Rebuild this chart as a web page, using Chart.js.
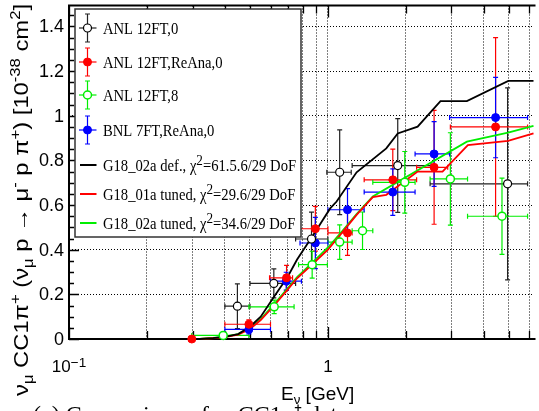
<!DOCTYPE html>
<html>
<head>
<meta charset="utf-8">
<script src="https://cdn.jsdelivr.net/npm/chart.js@4.4.0/dist/chart.umd.min.js"></script>
<style>
body { margin: 0; background: #fff; }
#wrap { width: 539px; height: 411px; position: relative; overflow: hidden; }
</style>
</head>
<body>
<div id="wrap"><canvas id="grafico" width="539" height="411"></canvas></div>
<script>
// ANL 12FT,0
const anlE = [0.447, 0.618, 0.864, 1.11, 1.86, 4.94];
const anlLo = [0.40, 0.50, 0.75, 0.99, 1.24, 2.48];
const anlHi = [0.50, 0.75, 1.0, 1.23, 2.5, 5.9];
const anlY = [0.147, 0.249, 0.448, 0.747, 0.777, 0.695];
const anlErr = [0.10, 0.065, 0.12, 0.19, 0.21, 0.43];

// ANL 12FT,ReAna,0
const reaE = [0.298, 0.495, 0.692, 0.894, 1.19, 1.78, 2.57, 4.44];
const reaLo = [0.298, 0.40, 0.595, 0.78, 1.0, 1.38, 2.2, 2.97];
const reaHi = [0.298, 0.60, 0.73, 1.0, 1.24, 2.2, 2.9, 5.9];
const reaY = [0.0, 0.066, 0.274, 0.494, 0.475, 0.713, 0.769, 0.95];
const reaErr = [0.005, 0.02, 0.056, 0.10, 0.10, 0.138, 0.255, 0.40];

// ANL 12FT,8
const anl8E = [0.394, 0.620, 0.869, 1.11, 1.36, 1.98, 2.97, 4.70];
const anl8Lo = [0.298, 0.495, 0.77, 1.0, 1.24, 1.49, 2.48, 3.46];
const anl8Hi = [0.495, 0.74, 0.995, 1.24, 1.49, 2.17, 3.46, 5.9];
const anl8Y = [0.016, 0.144, 0.333, 0.434, 0.485, 0.702, 0.717, 0.550];
const anl8Err = [0.01, 0.03, 0.06, 0.077, 0.084, 0.138, 0.207, 0.171];

// BNL 7FT,ReAna,0
const bnlE = [0.495, 0.69, 0.894, 1.19, 1.78, 2.57, 4.44];
const bnlLo = [0.40, 0.60, 0.78, 1.0, 1.38, 2.17, 2.95];
const bnlHi = [0.60, 0.79, 1.0, 1.38, 2.17, 2.95, 5.9];
const bnlY = [0.043, 0.259, 0.43, 0.579, 0.658, 0.829, 0.992];
const bnlErr = [0.02, 0.04, 0.115, 0.095, 0.104, 0.145, 0.18];

// curvas GENIE
const defE = [0.1, 0.32, 0.36, 0.40, 0.45, 0.50, 0.55, 0.62, 0.70, 0.76, 0.88, 1.02, 1.08, 1.29, 1.68, 1.86, 2.22, 2.72, 3.44, 4.97, 6.22];
const defY = [0, 0, 0.004, 0.01, 0.022, 0.055, 0.10, 0.19, 0.28, 0.356, 0.468, 0.585, 0.616, 0.747, 0.854, 0.921, 0.951, 1.066, 1.066, 1.156, 1.156];
const t01E = [0.1, 0.32, 0.39, 0.45, 0.50, 0.55, 0.62, 0.70, 0.76, 0.87, 1.0, 1.14, 1.29, 1.49, 1.68, 2.22, 2.77, 3.47, 4.96, 6.22];
const t01Y = [0, 0, 0.006, 0.019, 0.045, 0.085, 0.15, 0.222, 0.272, 0.334, 0.40, 0.48, 0.556, 0.636, 0.646, 0.75, 0.75, 0.869, 0.888, 0.921];
const t02E = [0.1, 0.32, 0.39, 0.45, 0.50, 0.55, 0.62, 0.70, 0.76, 0.87, 1.0, 1.14, 1.29, 1.49, 3.44, 4.96, 6.22];
const t02Y = [0, 0, 0.008, 0.022, 0.049, 0.089, 0.156, 0.228, 0.277, 0.342, 0.41, 0.486, 0.56, 0.638, 0.884, 0.924, 0.955];

const xTicks = [0.1, 0.2, 0.3, 0.4, 0.5, 0.6, 0.7, 0.8, 0.9, 1, 2, 3, 4, 5, 6];
const xMajor = [0.1, 1];
const yTicks = [0, 0.2, 0.4, 0.6, 0.8, 1.0, 1.2, 1.4];
const yLabels = ['0', '0.2', '0.4', '0.6', '0.8', '1', '1.2', '1.4'];

const SANS = '"Liberation Sans", Arial, sans-serif';
const SERIF = '"Liberation Serif", "Times New Roman", serif';

function pts(xs, ys) { return xs.map((x, i) => ({ x: x, y: ys[i] })); }

// ancho de un texto con sub/superindices
function richWidth(ctx, parts, size, family) {
    let w = 0;
    parts.forEach(p => { ctx.font = (size * p[1]) + 'px ' + family; w += ctx.measureText(p[0]).width; });
    return w;
}

// texto con sub/superindices: [texto, escala, desplazamiento]
function rich(ctx, x, y, parts, size, family, align) {
    const w = richWidth(ctx, parts, size, family);
    let cx = align === 'center' ? x - w / 2 : (align === 'right' ? x - w : x);
    parts.forEach(p => {
        ctx.font = (size * p[1]) + 'px ' + family;
        ctx.fillText(p[0], cx, y + p[2]);
        cx += ctx.measureText(p[0]).width;
    });
    return w;
}

function errBar(ctx, x1, y1, x2, y2, cap, vertical) {
    ctx.beginPath();
    ctx.moveTo(x1, y1); ctx.lineTo(x2, y2);
    if (vertical) {
        ctx.moveTo(x1 - cap, y1); ctx.lineTo(x1 + cap, y1);
        ctx.moveTo(x2 - cap, y2); ctx.lineTo(x2 + cap, y2);
    } else {
        ctx.moveTo(x1, y1 - cap); ctx.lineTo(x1, y1 + cap);
        ctx.moveTo(x2, y2 - cap); ctx.lineTo(x2, y2 + cap);
    }
    ctx.stroke();
}

const errorBars = {
    id: 'errorBars',
    beforeDatasetsDraw(chart) {
        const ctx = chart.ctx, xs = chart.scales.x, ys = chart.scales.y, a = chart.chartArea;
        ctx.save();
        // marco
        ctx.strokeStyle = '#000';
        ctx.lineWidth = 2;
        ctx.beginPath();
        ctx.moveTo(a.right + 2, a.top); ctx.lineTo(a.left, a.top); ctx.lineTo(a.left, a.bottom); ctx.lineTo(a.right + 2, a.bottom);
        ctx.stroke();
        ctx.lineWidth = 1.3;
        ctx.beginPath();
        xTicks.forEach(v => {
            const px = Math.round(xs.getPixelForValue(v)) + 0.5;
            const len = xMajor.includes(v) ? 12 : 8;
            ctx.moveTo(px, a.bottom); ctx.lineTo(px, a.bottom - len);
            ctx.moveTo(px, a.top); ctx.lineTo(px, a.top + len);
        });
        for (let v = 0; v <= 1.49; v += 0.05) {
            const py = Math.round(ys.getPixelForValue(v)) + 0.5;
            const major = Math.abs(v / 0.2 - Math.round(v / 0.2)) < 0.01;
            ctx.moveTo(a.left, py); ctx.lineTo(a.left + (major ? 10 : 5), py);
        }
        ctx.stroke();
        // barras de error
        chart.data.datasets.forEach(ds => {
            if (!ds.yErr) return;
            ctx.strokeStyle = ds.errColor;
            ctx.lineWidth = 1.2;
            ds.data.forEach((p, i) => {
                const px = xs.getPixelForValue(p.x), py = ys.getPixelForValue(p.y);
                if (ds.xHi[i] > ds.xLo[i]) {
                    errBar(ctx, xs.getPixelForValue(ds.xLo[i]), py, xs.getPixelForValue(ds.xHi[i]), py, 2.5, false);
                }
                errBar(ctx, px, ys.getPixelForValue(p.y + ds.yErr[i]), px, ys.getPixelForValue(p.y - ds.yErr[i]), 2.5, true);
            });
        });
        ctx.restore();
    },
    afterDraw(chart) {
        const ctx = chart.ctx, xs = chart.scales.x, ys = chart.scales.y;
        ctx.save();
        ctx.fillStyle = '#000';
        // etiquetas de los ejes
        ctx.font = '18px ' + SANS;
        ctx.textAlign = 'right';
        ctx.textBaseline = 'middle';
        yTicks.forEach((v, i) => ctx.fillText(yLabels[i], 64, ys.getPixelForValue(v) + 1));
        ctx.textAlign = 'left';
        ctx.textBaseline = 'alphabetic';
        rich(ctx, xs.getPixelForValue(0.1), 372, [['10', 1, 0], ['\u22121', 0.8, -5]], 17, SANS, 'center');
        rich(ctx, xs.getPixelForValue(1), 372, [['1', 1, 0]], 17, SANS, 'center');
        rich(ctx, 281, 400, [['E', 1, 0], ['\u03bd', 0.7, 4], [' [GeV]', 1, 0]], 19, SANS, 'left');
        // titulo eje y (estirado al largo del original)
        const yTitle = [
            ['\u03bd', 1, 0], ['\u03bc', 0.7, 5], [' CC1\u03c0', 1, 0], ['+', 0.7, -8],
            [' (\u03bd', 1, 0], ['\u03bc', 0.7, 5], [' p \u2192 \u03bc', 1, 0], ['-', 0.7, -8],
            [' p \u03c0', 1, 0], ['+', 0.7, -8], [') [10', 1, 0], ['-38', 0.7, -8],
            [' cm', 1, 0], ['2', 0.7, -8], [']', 1, 0]
        ];
        const tw = richWidth(ctx, yTitle, 20, SANS);
        ctx.save();
        ctx.translate(28, 200);
        ctx.rotate(-Math.PI / 2);
        ctx.scale(392 / tw, 1);
        rich(ctx, 0, 0, yTitle, 20, SANS, 'center');
        ctx.restore();
        // leyenda
        ctx.fillStyle = '#fff';
        ctx.fillRect(75, 9, 226, 228);
        ctx.strokeStyle = '#333';
        ctx.lineWidth = 1.5;
        ctx.strokeRect(75, 9, 226, 228);
        const rows = [28, 62, 95, 130, 165, 194, 223];
        chart.data.datasets.forEach((ds, j) => {
            const cy = rows[j];
            ctx.strokeStyle = ds.yErr ? ds.errColor : ds.borderColor;
            if (ds.yErr) {
                ctx.lineWidth = 1.2;
                errBar(ctx, 87.5, cy - 14, 87.5, cy + 14, 2.5, true);
                ctx.beginPath(); ctx.moveTo(79, cy); ctx.lineTo(96.5, cy); ctx.stroke();
                ctx.beginPath();
                ctx.arc(87.5, cy, 4, 0, Math.PI * 2);
                ctx.fillStyle = ds.pointBackgroundColor;
                ctx.fill();
                ctx.lineWidth = ds.pointBorderWidth;
                ctx.strokeStyle = ds.pointBorderColor;
                ctx.stroke();
            } else {
                ctx.lineWidth = 2;
                ctx.beginPath(); ctx.moveTo(80, cy); ctx.lineTo(96.5, cy); ctx.stroke();
            }
            ctx.fillStyle = '#000';
            ctx.save();
            ctx.translate(103, cy + 6);
            ctx.scale(0.86, 1);
            rich(ctx, 0, 0, ds.legendParts, 17, SERIF, 'left');
            ctx.restore();
        });
        // pie de figura (cortado)
        ctx.fillStyle = '#000';
        ctx.font = '24px ' + SERIF;
        ctx.fillText('(a) Comparison of \u03bd  CC1\u03c0\u207a data', 33, 422);
        ctx.restore();
    }
};

const datasets = [
    { label: 'ANL 12FT,0', type: 'scatter', data: pts(anlE, anlY), xLo: anlLo, xHi: anlHi, yErr: anlErr,
      errColor: '#222', pointRadius: 4, pointBackgroundColor: '#fff', pointBorderColor: '#000', pointBorderWidth: 1.2,
      legendParts: [['ANL 12FT,0', 1, 0]], order: 0, clip: false },
    { label: 'ANL 12FT,ReAna,0', type: 'scatter', data: pts(reaE, reaY), xLo: reaLo, xHi: reaHi, yErr: reaErr,
      errColor: '#ff0000', pointRadius: 4, pointBackgroundColor: '#ff0000', pointBorderColor: '#ff0000', pointBorderWidth: 1,
      legendParts: [['ANL 12FT,ReAna,0', 1, 0]], order: 0, clip: false },
    { label: 'ANL 12FT,8', type: 'scatter', data: pts(anl8E, anl8Y), xLo: anl8Lo, xHi: anl8Hi, yErr: anl8Err,
      errColor: '#00ee00', pointRadius: 4, pointBackgroundColor: '#fff', pointBorderColor: '#00ee00', pointBorderWidth: 1.5,
      legendParts: [['ANL 12FT,8', 1, 0]], order: 0, clip: false },
    { label: 'BNL 7FT,ReAna,0', type: 'scatter', data: pts(bnlE, bnlY), xLo: bnlLo, xHi: bnlHi, yErr: bnlErr,
      errColor: '#0000ff', pointRadius: 4, pointBackgroundColor: '#0000ff', pointBorderColor: '#0000ff', pointBorderWidth: 1,
      legendParts: [['BNL 7FT,ReAna,0', 1, 0]], order: 0, clip: false },
    { label: 'G18_02a def.', type: 'line', data: pts(defE, defY), borderColor: '#000', borderWidth: 1.8,
      pointRadius: 0, tension: 0, fill: false, order: 1, clip: false,
      legendParts: [['G18_02a def., \u03c7', 1, 0], ['2', 0.9, -6], ['=61.5.6/29 DoF', 1, 0]] },
    { label: 'G18_01a tuned', type: 'line', data: pts(t01E, t01Y), borderColor: '#ff0000', borderWidth: 1.8,
      pointRadius: 0, tension: 0, fill: false, order: 1, clip: false,
      legendParts: [['G18_01a tuned, \u03c7', 1, 0], ['2', 0.9, -6], ['=29.6/29 DoF', 1, 0]] },
    { label: 'G18_02a tuned', type: 'line', data: pts(t02E, t02Y), borderColor: '#00ee00', borderWidth: 1.8,
      pointRadius: 0, tension: 0, fill: false, order: 1, clip: false,
      legendParts: [['G18_02a tuned, \u03c7', 1, 0], ['2', 0.9, -6], ['=34.6/29 DoF', 1, 0]] }
];

new Chart(document.getElementById('grafico'), {
    type: 'scatter',
    data: { datasets: datasets },
    options: {
        responsive: false,
        animation: false,
        devicePixelRatio: 1,
        events: [],
        layout: { padding: { left: 69, right: 0, top: 4, bottom: 72 } },
        plugins: { legend: { display: false }, tooltip: { enabled: false } },
        scales: {
            x: {
                type: 'logarithmic', min: 0.1, max: 6.22,
                afterBuildTicks: s => { s.ticks = xTicks.map(v => ({ value: v })); },
                afterFit: s => { s.height = 0; },
                ticks: { display: false },
                grid: { color: '#000', lineWidth: 1, drawTicks: false },
                border: { display: false, dash: [1, 2] }
            },
            y: {
                min: 0, max: 1.494,
                afterBuildTicks: s => { s.ticks = yTicks.map(v => ({ value: v })); },
                afterFit: s => { s.width = 0; },
                ticks: { display: false },
                grid: { color: '#000', lineWidth: 1, drawTicks: false },
                border: { display: false, dash: [1, 2] }
            }
        }
    },
    plugins: [errorBars]
});
</script>
</body>
</html>
